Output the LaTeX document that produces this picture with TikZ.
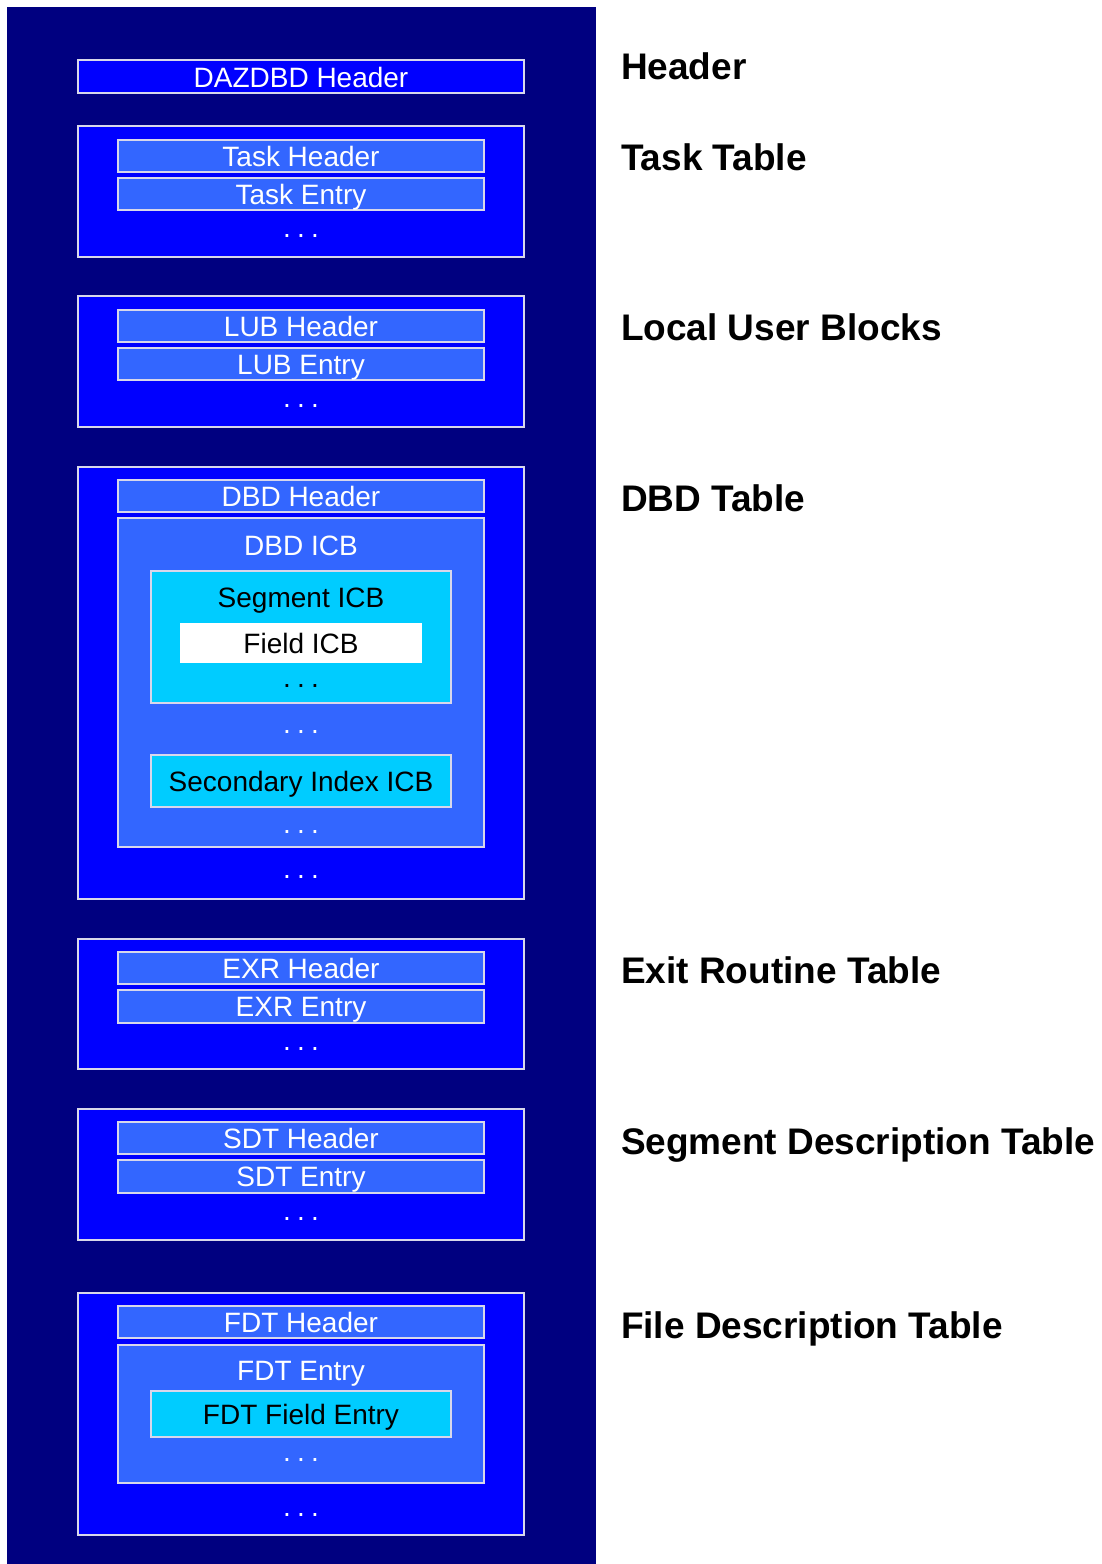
\documentclass[tikz,border=0pt]{standalone}
\usepackage{fontspec}
\setmainfont{Liberation Sans}
\definecolor{navy}{RGB}{0,0,128}
\definecolor{bblue}{RGB}{0,0,255}
\definecolor{mblue}{RGB}{51,102,255}
\definecolor{cyanbox}{RGB}{0,204,255}
\definecolor{edge}{RGB}{215,215,235}
\newcommand\mydots{.\hspace{6.2pt}.\hspace{6.2pt}.}
\begin{document}
\begin{tikzpicture}[x=1pt,y=-1pt,
  every node/.style={inner sep=0pt,outer sep=0pt},
  outerbox/.style={draw=edge,line width=1.5pt,fill=bblue,minimum width=446pt},
  midbox/.style={draw=edge,line width=1.5pt,fill=mblue,minimum width=366pt},
  cyanb/.style={draw=edge,line width=1.5pt,fill=cyanbox,minimum width=300pt},
  whiteb/.style={fill=white,minimum width=242pt},
  wtxt/.style={text=white,font=\fontsize{28}{30}\selectfont,anchor=base},
  btxt/.style={text=black,font=\fontsize{28}{30}\selectfont,anchor=base},
  lbl/.style={text=black,font=\fontsize{37}{40}\selectfont\bfseries,anchor=base west}]
\useasboundingbox (0,0) rectangle (1102,1564);
\fill[white] (0,0) rectangle (1102,1564);
\node[fill=navy,minimum width=589pt,minimum height=1557pt,anchor=north west] (panel) at (7,7) {};

% Header
\node[outerbox,minimum height=33pt] (daz) at (301,76.5) {};
\node[wtxt] (dazt) at (301,87) {DAZDBD Header};

% Task table
\node[outerbox,minimum height=131pt] (task) at (301,191.5) {};
\node[midbox,minimum height=32pt] (taskh) at (301,156) {};
\node[wtxt] (taskht) at (301,166) {Task Header};
\node[midbox,minimum height=32pt] (taske) at (301,194) {};
\node[wtxt] (tasket) at (301,204) {Task Entry};
\node[wtxt] (taskd) at (301,237) {\mydots};

% LUB
\node[outerbox,minimum height=131pt] (lub) at (301,361.5) {};
\node[midbox,minimum height=32pt] (lubh) at (301,326) {};
\node[wtxt] (lubht) at (301,336) {LUB Header};
\node[midbox,minimum height=32pt] (lube) at (301,364) {};
\node[wtxt] (lubet) at (301,374) {LUB Entry};
\node[wtxt] (lubd) at (301,407) {\mydots};

% DBD
\node[outerbox,minimum height=432pt] (dbd) at (301,683) {};
\node[midbox,minimum height=32pt] (dbdh) at (301,496) {};
\node[wtxt] (dbdht) at (301,506) {DBD Header};
\node[midbox,minimum height=329pt] (icb) at (301,682.5) {};
\node[wtxt] (icbt) at (301,555) {DBD ICB};
\node[cyanb,minimum height=132pt] (seg) at (301,637) {};
\node[btxt] (segt) at (301,607) {Segment ICB};
\node[whiteb,minimum height=40pt] (fld) at (301,643) {};
\node[btxt] (fldt) at (301,653) {Field ICB};
\node[btxt] (segd) at (301,687) {\mydots};
\node[wtxt] (icbd1) at (301,733) {\mydots};
\node[cyanb,minimum height=52pt] (sec) at (301,781) {};
\node[btxt] (sect) at (301,791) {Secondary Index ICB};
\node[wtxt] (icbd2) at (301,833) {\mydots};
\node[wtxt] (dbdd) at (301,878) {\mydots};

% EXR
\node[outerbox,minimum height=130pt] (exr) at (301,1004) {};
\node[midbox,minimum height=32pt] (exrh) at (301,968) {};
\node[wtxt] (exrht) at (301,978) {EXR Header};
\node[midbox,minimum height=33pt] (exre) at (301,1006.5) {};
\node[wtxt] (exret) at (301,1016.5) {EXR Entry};
\node[wtxt] (exrd) at (301,1050) {\mydots};

% SDT
\node[outerbox,minimum height=131pt] (sdt) at (301,1174.5) {};
\node[midbox,minimum height=32pt] (sdth) at (301,1138) {};
\node[wtxt] (sdtht) at (301,1148) {SDT Header};
\node[midbox,minimum height=33pt] (sdte) at (301,1176.5) {};
\node[wtxt] (sdtet) at (301,1186.5) {SDT Entry};
\node[wtxt] (sdtd) at (301,1220) {\mydots};

% FDT
\node[outerbox,minimum height=242pt] (fdt) at (301,1414) {};
\node[midbox,minimum height=32pt] (fdth) at (301,1322) {};
\node[wtxt] (fdtht) at (301,1332) {FDT Header};
\node[midbox,minimum height=138pt] (fdte) at (301,1414) {};
\node[wtxt] (fdtet) at (301,1380) {FDT Entry};
\node[cyanb,minimum height=46pt] (fdtf) at (301,1414) {};
\node[btxt] (fdtft) at (301,1424) {FDT Field Entry};
\node[wtxt] (fdted) at (301,1461) {\mydots};
\node[wtxt] (fdtd) at (301,1516) {\mydots};

% Labels
\node[lbl] (l1) at (621,79) {Header};
\node[lbl] (l2) at (621,170) {Task Table};
\node[lbl] (l3) at (621,340) {Local User Blocks};
\node[lbl] (l4) at (621,511) {DBD Table};
\node[lbl] (l5) at (621,983) {Exit Routine Table};
\node[lbl] (l6) at (621,1154) {Segment Description Table};
\node[lbl] (l7) at (621,1338) {File Description Table};
\end{tikzpicture}
\end{document}
